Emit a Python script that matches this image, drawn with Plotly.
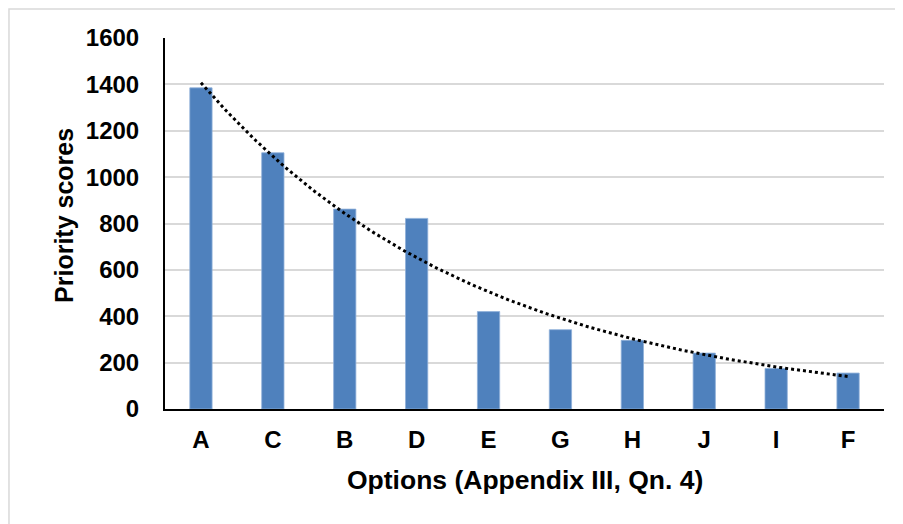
import numpy as np
import plotly.graph_objects as go

categories = ["A", "C", "B", "D", "E", "G", "H", "J", "I", "F"]
scores = [1385, 1105, 862, 822, 420, 342, 296, 241, 175, 155]
y_ticks = [0, 200, 400, 600, 800, 1000, 1200, 1400, 1600]

# Exponential trendline (least squares on log values), as in a spreadsheet trendline
idx = np.arange(1, len(scores) + 1)
b, a = np.polyfit(idx, np.log(scores), 1)
xs = np.linspace(1, len(scores), 200)
ys = np.exp(a + b * xs)
pos = np.arange(len(categories))

FONT = "Liberation Sans, Arial"

fig = go.Figure()
fig.add_trace(go.Bar(x=pos, y=scores, marker=dict(color="#4F81BD", line=dict(color="#8FB0D9", width=0.8)),
                     width=0.31, showlegend=False))
fig.add_trace(go.Scatter(x=xs - 1, y=ys, mode="lines", line=dict(color="black", width=3, dash="dot"),
                         showlegend=False, hoverinfo="skip"))

fig.update_layout(
    width=895, height=516,
    margin=dict(l=157, r=19, t=30, b=115, autoexpand=False),
    plot_bgcolor="white", paper_bgcolor="white",
    font=dict(family=FONT, size=15, color="black"),
    xaxis=dict(tickmode="array", tickvals=list(pos), ticktext=categories,
               range=[-0.5, len(categories) - 0.5],
               showline=True, linecolor="black", linewidth=2,
               ticks="outside", ticklen=8, tickcolor="rgba(0,0,0,0)",
               tickfont=dict(size=24, family=FONT, weight="bold"),
               showgrid=False, zeroline=False, automargin=False),
    yaxis=dict(range=[0, 1600], tickvals=y_ticks, showline=True, linecolor="black", linewidth=2,
               gridcolor="#D9D9D9", gridwidth=1.5, zeroline=False,
               tickfont=dict(size=24, family=FONT, weight="bold"),
               ticks="outside", ticklen=19, tickcolor="rgba(0,0,0,0)", automargin=False),
    annotations=[
        dict(text="Options (Appendix III, Qn. 4)", xref="paper", yref="paper", x=0.5, y=-0.1914,
             xanchor="center", yanchor="middle", showarrow=False,
             font=dict(size=26.5, family=FONT, weight="bold")),
        dict(text="Priority scores", xref="paper", yref="paper", x=-0.1405, y=0.523, textangle=-90,
             xanchor="center", yanchor="middle", showarrow=False,
             font=dict(size=25, family=FONT, weight="bold")),
    ],
    shapes=[dict(type="rect", xref="paper", yref="paper", x0=-0.217, x1=1.2, y0=-0.5, y1=1.078,
                 line=dict(color="#D9D9D9", width=1.5), fillcolor="rgba(0,0,0,0)", layer="below")],
)
fig.write_html("out.html")
